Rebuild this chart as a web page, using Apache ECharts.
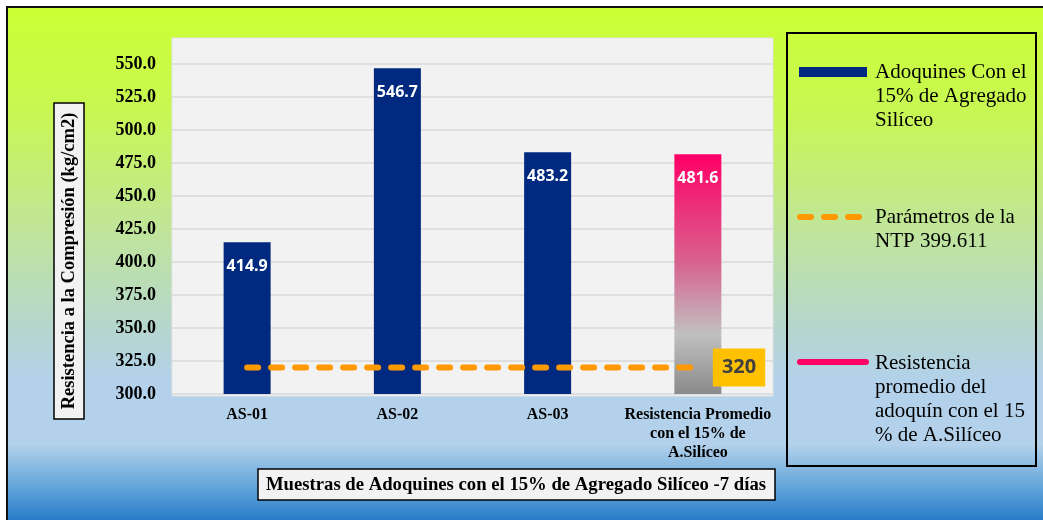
<!DOCTYPE html>
<html>
<head>
<meta charset="utf-8">
<script src="https://cdn.jsdelivr.net/npm/echarts@6/dist/echarts.min.js"></script>
<style>html,body{margin:0;padding:0;background:#fff;}#c{width:1043px;height:520px;}</style>
</head>
<body>
<div id="c"></div>
<script>
const categories = ['AS-01', 'AS-02', 'AS-03', 'Resistencia Promedio\ncon el 15% de\nA.Silíceo'];
const resistencia = [414.9, 546.7, 483.2, 481.6];
const ntpParametro = [320, 320, 320, 320];
const yTicks = { min: 300, max: 550, interval: 25 };
const yTitle = 'Resistencia a la Compresión (kg/cm2)';
const xTitle = 'Muestras de Adoquines con el 15% de Agregado Silíceo -7 días';
const legendTexts = ['Adoquines Con el\n15% de Agregado\nSilíceo', 'Parámetros de la\nNTP 399.611', 'Resistencia\npromedio del\nadoquín con el 15\n% de A.Silíceo'];

const serif = '"Liberation Serif", "Times New Roman", serif';
const sans = '"Noto Sans", "Open Sans", sans-serif';
const navy = '#00297F';
const pinkGrad = { type: 'linear', x: 0, y: 0, x2: 0, y2: 1, colorStops: [
  { offset: 0, color: '#FF0066' }, { offset: 0.45, color: '#D8628F' },
  { offset: 0.75, color: '#C0C0C0' }, { offset: 1, color: '#8A8A8A' }] };

const barData = resistencia.map((v, i) => i === 3
  ? { value: v, itemStyle: { color: pinkGrad } }
  : { value: v, itemStyle: { color: navy } });

const chart = echarts.init(document.getElementById('c'), null, { renderer: 'canvas' });
chart.setOption({
  animation: false,
  backgroundColor: '#ffffff',
  grid: { left: 172, right: 270, top: 64, bottom: 126 },
  xAxis: {
    type: 'category', data: categories,
    axisLine: { show: false }, axisTick: { show: false },
    axisLabel: { color: '#000', fontFamily: serif, fontWeight: 'bold', fontSize: 16, lineHeight: 19, margin: 11, interval: 0 }
  },
  yAxis: {
    type: 'value', min: yTicks.min, max: yTicks.max, interval: yTicks.interval,
    axisLine: { show: false }, axisTick: { show: false },
    axisLabel: { color: '#000', fontFamily: serif, fontWeight: 'bold', fontSize: 18, margin: 16,
      formatter: v => v.toFixed(1) },
    splitLine: { lineStyle: { color: '#D9D9D9', width: 1.5 } }
  },
  series: [
    { type: 'bar', data: barData, barWidth: 47, z: 3,
      label: { show: true, position: 'insideTop', distance: 16, color: '#fff', fontFamily: sans,
        fontWeight: 'bold', fontSize: 16, formatter: p => p.value.toFixed(1) } },
    { type: 'line', data: ntpParametro, symbol: 'none', z: 4,
      lineStyle: { color: '#FF9900', width: 6, type: [11, 13], cap: 'round' },
      endLabel: { show: true, distance: 15, formatter: p => String(p.value),
        backgroundColor: '#FFC000', padding: [6, 9, 6, 9], fontFamily: sans, fontWeight: 'bold',
        fontSize: 20, lineHeight: 26, color: '#404040' } }
  ],
  graphic: [
    { type: 'rect', z: -20, shape: { x: 7, y: 7, width: 1040, height: 520 },
      style: { fill: { type: 'linear', x: 0, y: 0, x2: 0, y2: 1, colorStops: [
        { offset: 0, color: '#CCFF33' }, { offset: 0.2, color: '#C8F752' },
        { offset: 0.45, color: '#BFE3A0' }, { offset: 0.62, color: '#B5D6CF' },
        { offset: 0.72, color: '#B3D1EA' }, { offset: 0.84, color: '#B3D1EA' },
        { offset: 0.92, color: '#64A6DB' }, { offset: 1, color: '#1A73C5' }] },
        stroke: '#111', lineWidth: 2 } },
    { type: 'rect', z: -10, shape: { x: 172, y: 38, width: 601, height: 358 },
      style: { fill: '#F2F2F2', stroke: '#E4E4E4', lineWidth: 1 } },
    { type: 'rect', z: 10, shape: { x: 54, y: 103, width: 30, height: 316 },
      style: { fill: '#F2F2F2', stroke: '#000', lineWidth: 1.5 } },
    { type: 'text', z: 11, x: 69, y: 261, rotation: Math.PI / 2,
      style: { text: yTitle, fill: '#000', font: 'bold 18.5px ' + serif, textAlign: 'center', textVerticalAlign: 'middle' } },
    { type: 'rect', z: 10, shape: { x: 258, y: 469, width: 517, height: 31 },
      style: { fill: '#F2F2F2', stroke: '#000', lineWidth: 1.5 } },
    { type: 'text', z: 11, x: 516, y: 485,
      style: { text: xTitle, fill: '#000', font: 'bold 18.7px ' + serif, textAlign: 'center', textVerticalAlign: 'middle' } },
    { type: 'rect', z: 10, shape: { x: 787, y: 33, width: 249, height: 433 },
      style: { fill: 'none', stroke: '#000', lineWidth: 2 } },
    { type: 'rect', z: 11, shape: { x: 799, y: 67, width: 68, height: 10 }, style: { fill: navy } },
    { type: 'line', z: 11, shape: { x1: 800, y1: 217, x2: 862, y2: 217 },
      style: { stroke: '#FF9900', lineWidth: 6, lineDash: [11, 13], lineCap: 'round' } },
    { type: 'line', z: 11, shape: { x1: 800, y1: 362, x2: 866, y2: 362 },
      style: { stroke: '#FF0066', lineWidth: 6, lineCap: 'round' } },
    { type: 'text', z: 11, x: 875, y: 60,
      style: { text: legendTexts[0], fill: '#000', font: '21px ' + serif, lineHeight: 24, textVerticalAlign: 'top' } },
    { type: 'text', z: 11, x: 875, y: 205,
      style: { text: legendTexts[1], fill: '#000', font: '21px ' + serif, lineHeight: 24, textVerticalAlign: 'top' } },
    { type: 'text', z: 11, x: 875, y: 351,
      style: { text: legendTexts[2], fill: '#000', font: '21px ' + serif, lineHeight: 24, textVerticalAlign: 'top' } }
  ]
});
</script>
</body>
</html>
